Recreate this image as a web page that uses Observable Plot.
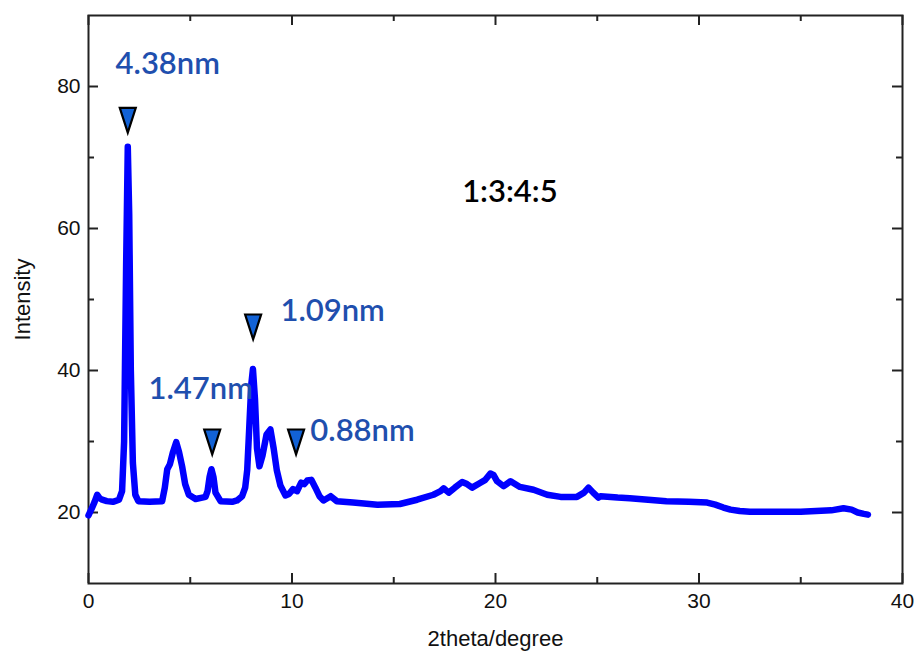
<!DOCTYPE html>
<html><head><meta charset="utf-8">
<script src="https://cdn.jsdelivr.net/npm/d3@7"></script>
<script src="https://cdn.jsdelivr.net/npm/@observablehq/plot@0.6"></script>
<style>html,body{margin:0;padding:0;background:#fff}</style>
</head><body><div id="chart"></div>
<script>
// XRD pattern
const twoTheta = [0,0.15,0.3,0.43,0.55,0.67,0.9,1.2,1.5,1.65,1.75,1.85,1.93,2.0,2.08,2.18,2.3,2.45,
  3.0,3.62,3.75,3.87,4.0,4.15,4.31,4.45,4.6,4.75,4.93,5.26,5.59,5.75,5.85,5.95,6.04,6.14,6.24,6.49,7.06,7.3,7.55,7.7,
  7.8,7.9,8.0,8.08,8.18,8.28,8.4,8.55,8.75,8.94,9.1,9.25,9.43,9.68,9.85,10.05,10.25,10.45,10.6,10.75,10.95,11.15,11.35,11.55,11.9,12.2,
  13.0,14.2,15.3,16.15,16.95,17.3,17.45,17.7,18.0,18.36,18.6,18.85,19.26,19.5,19.75,19.9,20.08,20.4,20.74,21.2,21.87,22.54,23.2,24.0,
  24.35,24.57,24.8,25.06,25.16,26.0,26.6,27.5,28.4,29.5,30.4,30.8,31.2,31.55,32.0,32.5,35.0,36.5,37.1,37.5,37.8,38.1,38.3];
const intensity = [19.6,20.5,21.5,22.5,22.0,21.8,21.6,21.5,21.8,23,30,55,71.5,62,40,27,22.5,21.6,
  21.5,21.6,23.5,26.1,26.8,28.5,29.9,28.5,26.5,24,22.5,21.9,22.1,22.2,23,25,26.1,25,22.8,21.6,21.5,21.7,22.3,23.5,
  26,32,38,40.2,36,29,26.5,28,31,31.7,29,26,23.8,22.4,22.6,23.3,23,24.2,24.0,24.5,24.6,23.5,22.3,21.7,22.3,21.6,
  21.4,21.1,21.2,21.8,22.5,23,23.4,22.8,23.5,24.3,24,23.5,24.2,24.6,25.5,25.3,24.4,23.7,24.4,23.6,23.2,22.5,22.2,22.2,
  22.8,23.5,22.8,22.1,22.3,22.1,22.0,21.8,21.6,21.5,21.4,21.1,20.7,20.4,20.2,20.1,20.1,20.3,20.6,20.4,20.0,19.8,19.7];

// peak markers
const peakX = [1.93, 6.08, 8.09, 10.2];
const peakY = [75.3, 30.0, 46.2, 30.0];

// d-spacing labels
const dLabels = ["4.38nm", "1.47nm", "1.09nm", "0.88nm"];
const dLabelX = [1.33, 2.95, 9.43, 10.9];
const dLabelY = [83.1, 37.4, 48.3, 31.5];

const ratioLabel = ["1:3:4:5"];
const ratioX = [18.36];
const ratioY = [65.2];

// axes
const xTitle = ["2theta/degree"];
const yTitle = ["Intensity"];
const xMajor = [0, 10, 20, 30, 40];
const xMinor = [5, 15, 25, 35];
const yMajor = [20, 40, 60, 80];
const yMinor = [30, 50, 70];

const W = 920, H = 660, mL = 88, mR = 18, mT = 15, mB = 77;
const innerW = W - mL - mR, innerH = H - mT - mB;
const majorLen = 10, minorLen = 6;
const tickColor = "#222";

const downTri = {
  draw(ctx, size) {
    const r = Math.sqrt(size / Math.PI);
    ctx.moveTo(-r, -1.5 * r);
    ctx.lineTo(r, -1.5 * r);
    ctx.lineTo(0, 1.6 * r);
    ctx.closePath();
  }
};

const chart = Plot.plot({
  width: W, height: H,
  marginLeft: mL, marginRight: mR, marginTop: mT, marginBottom: mB,
  style: {fontFamily: "'Liberation Sans', Arial, sans-serif", background: "#fff", color: "#111"},
  x: {domain: [0, 40]},
  y: {domain: [10, 90]},
  marks: [
    Plot.axisX({ticks: xMajor, tickSize: 0, tickPadding: 10, fontSize: 21, label: null}),
    Plot.axisY({ticks: yMajor, tickSize: 0, tickPadding: 8, fontSize: 21, label: null}),
    Plot.text(xTitle, {frameAnchor: "bottom", dy: 62, text: d => d, fontSize: 22, fill: "#111"}),
    Plot.text(yTitle, {frameAnchor: "left", dx: -66, rotate: -90, textAnchor: "middle", text: d => d, fontSize: 22, fill: "#111"}),
    // inward ticks, bottom/top
    Plot.tickX(xMajor, {x: d => d, insetTop: innerH - majorLen, stroke: tickColor, strokeWidth: 2}),
    Plot.tickX(xMajor, {x: d => d, insetBottom: innerH - majorLen, stroke: tickColor, strokeWidth: 2}),
    Plot.tickX(xMinor, {x: d => d, insetTop: innerH - minorLen, stroke: tickColor, strokeWidth: 2}),
    Plot.tickX(xMinor, {x: d => d, insetBottom: innerH - minorLen, stroke: tickColor, strokeWidth: 2}),
    // inward ticks, left/right
    Plot.tickY(yMajor, {y: d => d, insetRight: innerW - majorLen, stroke: tickColor, strokeWidth: 2}),
    Plot.tickY(yMajor, {y: d => d, insetLeft: innerW - majorLen, stroke: tickColor, strokeWidth: 2}),
    Plot.tickY(yMinor, {y: d => d, insetRight: innerW - minorLen, stroke: tickColor, strokeWidth: 2}),
    Plot.tickY(yMinor, {y: d => d, insetLeft: innerW - minorLen, stroke: tickColor, strokeWidth: 2}),
    Plot.frame({stroke: tickColor, strokeWidth: 2}),
    Plot.line(intensity, {x: twoTheta, y: intensity, stroke: "#0000ff", strokeWidth: 6.5, strokeLinejoin: "round", strokeLinecap: "round"}),
    Plot.dot(peakX, {x: peakX, y: peakY, symbol: downTri, r: 8, fill: "#1262d6", stroke: "#000", strokeWidth: 2.2, strokeLinejoin: "miter"}),
    Plot.text(dLabels, {x: dLabelX, y: dLabelY, text: d => d, textAnchor: "start", fontFamily: "Lato", fontSize: 31, fontWeight: 600, fill: "#1f4fae"}),
    Plot.text(ratioLabel, {x: ratioX, y: ratioY, text: d => d, textAnchor: "start", fontFamily: "Lato", fontSize: 31, fontWeight: 600, fill: "#000"})
  ]
});
document.getElementById("chart").appendChild(chart);
</script>
</body></html>
